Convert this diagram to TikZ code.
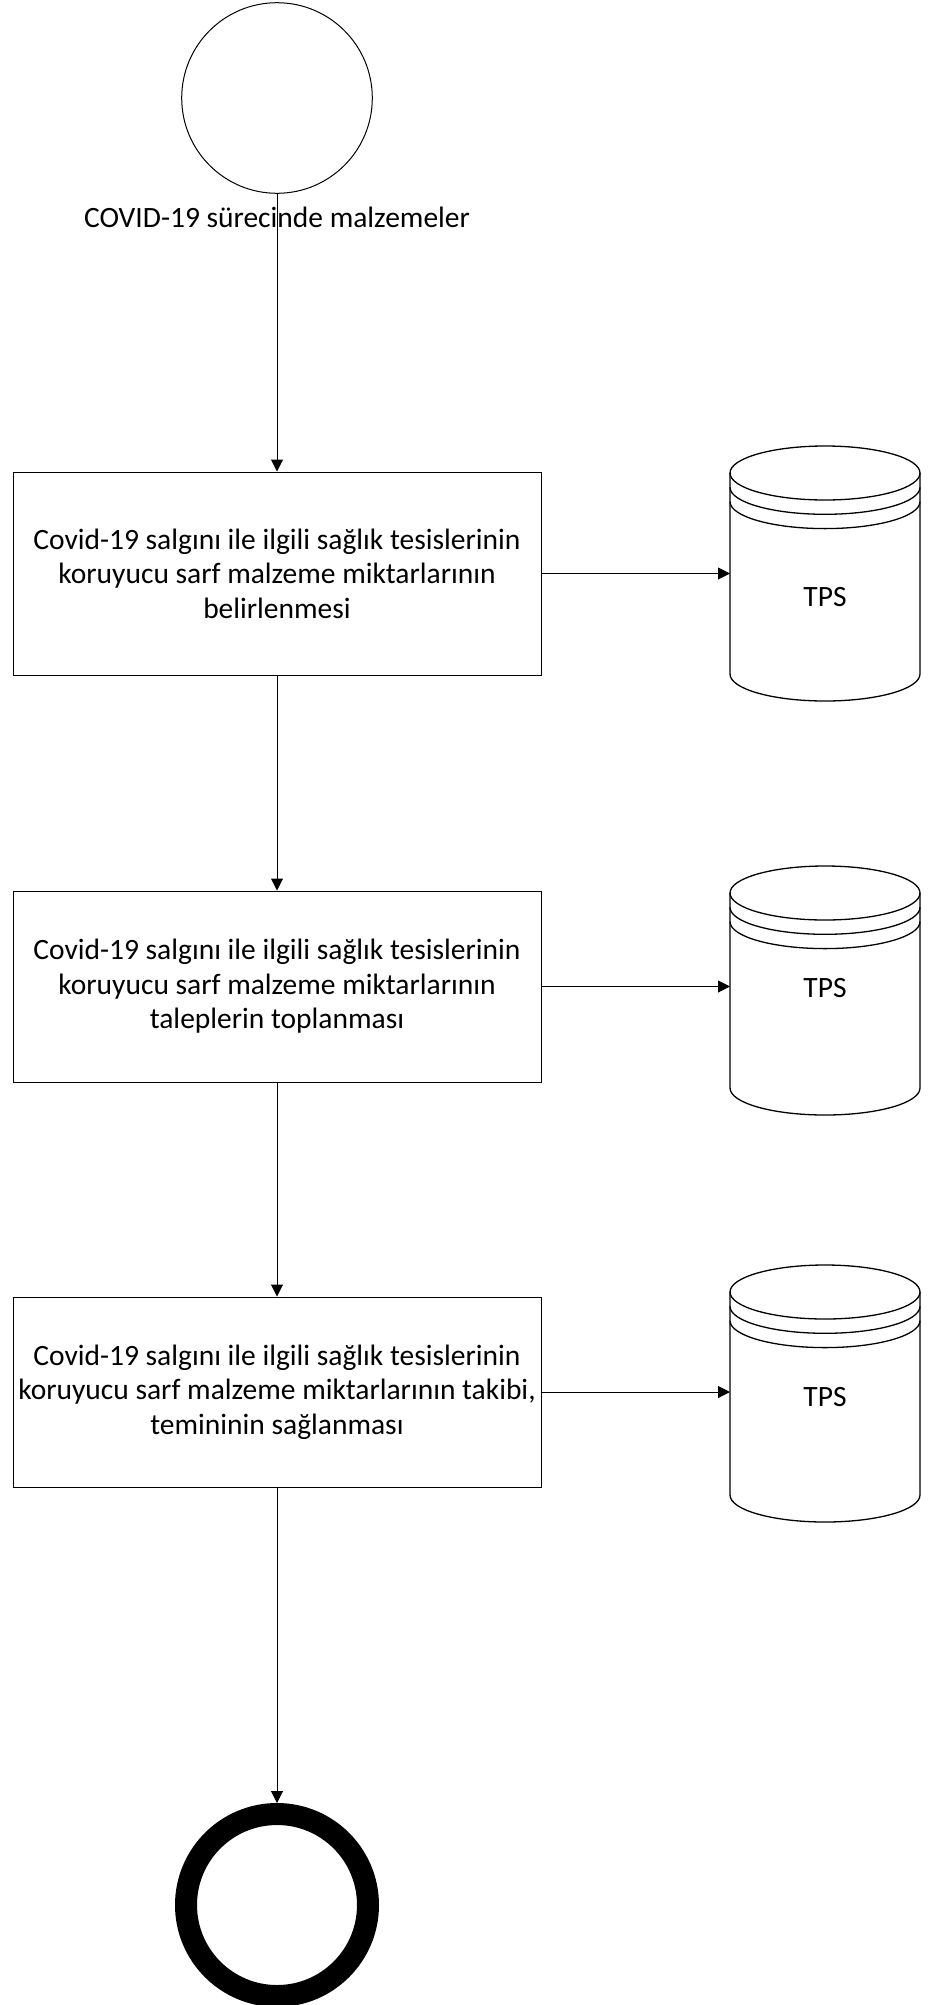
\documentclass[tikz,border=0pt]{standalone}
\usepackage{fontspec}
\setmainfont{Carlito}
\usetikzlibrary{arrows.meta}
\tikzset{
  procbox/.style={draw, line width=1pt, minimum width=528pt, align=center, inner sep=0pt,
    font=\fontsize{29.5}{34.5}\selectfont},
  lbl/.style={font=\fontsize{29.5}{34.5}\selectfont, inner sep=0pt},
  flow/.style={line width=1pt, -{Triangle[length=12pt,width=12pt]}},
  cylline/.style={line width=1.3pt},
  dbbox/.style={minimum width=190pt, inner sep=0pt, outer sep=0pt},
}
\newcommand\tpscyl[2]{%
  \begin{scope}[shift={(#1)}]
    \draw[cylline, fill=white] (-95,0) -- (-95,#2) arc[start angle=180,end angle=360,x radius=95pt,y radius=27pt] -- (95,0);
    \draw[cylline] (0,0) ellipse [x radius=95pt, y radius=27pt];
    \draw[cylline] (-95,14.3) arc[start angle=180,end angle=360,x radius=95pt,y radius=27pt];
    \draw[cylline] (-95,28.6) arc[start angle=180,end angle=360,x radius=95pt,y radius=27pt];
  \end{scope}}
\begin{document}
\begin{tikzpicture}[x=1pt,y=-1pt]
\useasboundingbox (0,0) rectangle (935,2005);
% start and end events
\node[draw, circle, line width=1pt, minimum size=190.6pt, inner sep=0pt] (start) at (277,98) {};
\node[draw, circle, line width=22pt, minimum size=182pt, inner sep=0pt] (stop) at (277,1905) {};
% process boxes
\node[procbox, minimum height=203pt] (b1) at (277,573.5) {Covid-19 salgını ile ilgili sağlık tesislerinin\\koruyucu sarf malzeme miktarlarının\\belirlenmesi};
\node[procbox, minimum height=191pt] (b2) at (277,986.5) {Covid-19 salgını ile ilgili sağlık tesislerinin\\koruyucu sarf malzeme miktarlarının\\taleplerin toplanması};
\node[procbox, minimum height=190pt] (b3) at (277,1392) {Covid-19 salgını ile ilgili sağlık tesislerinin\\koruyucu sarf malzeme miktarlarının takibi,\\temininin sağlanması};
% data stores
\tpscyl{825,473}{201}
\tpscyl{825,893}{195}
\tpscyl{825,1292}{203}
\node[dbbox, minimum height=255pt] (db1) at (825,573.5) {};
\node[dbbox, minimum height=249pt] (db2) at (825,990.5) {};
\node[dbbox, minimum height=257pt] (db3) at (825,1393.5) {};
\node[lbl] (t1) at (825,597) {TPS};
\node[lbl] (t2) at (825,988) {TPS};
\node[lbl] (t3) at (825,1397) {TPS};
% connectors
\draw[flow] (start) -- (b1);
\draw[flow] (b1) -- (b2);
\draw[flow] (b2) -- (b3);
\draw[flow] (b3) -- (stop);
\draw[flow] (b1.east) -- (b1.east -| db1.west);
\draw[flow] (b2.east) -- (b2.east -| db2.west);
\draw[flow] (b3.east) -- (b3.east -| db3.west);
% start label (drawn over the connector, no background)
\node[lbl] (startlbl) at (277,217) {COVID-19 sürecinde malzemeler};
\end{tikzpicture}
\end{document}
